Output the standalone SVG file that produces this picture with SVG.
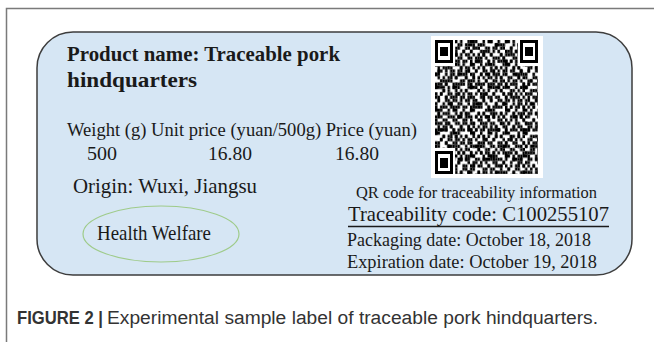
<svg xmlns="http://www.w3.org/2000/svg" width="654" height="342" viewBox="0 0 654 342">
<style>
.lbl{font-family:"Liberation Serif","Times New Roman",serif;fill:#1a1a1a}
.cap{font-family:"Liberation Sans",Arial,sans-serif;fill:#333;font-size:18px}
</style>
<defs>
<pattern id="pa" patternUnits="userSpaceOnUse" width="7" height="7">
<path d="M0 0h2v1h-2zM3 1h1v1h-1zM5 1h1v1h-1zM2 2h1v1h-1zM6 2h1v1h-1zM0 3h1v1h-1zM4 3h1v1h-1zM1 4h1v1h-1zM5 4h1v1h-1zM3 5h1v1h-1zM6 5h1v1h-1zM0 6h1v1h-1zM2 6h1v1h-1zM4 6h1v1h-1z" fill="#000"/>
</pattern>
<pattern id="pb" patternUnits="userSpaceOnUse" width="9" height="9">
<path d="M1 0h1v1h-1zM4 0h1v1h-1zM7 0h1v1h-1zM0 1h1v1h-1zM6 1h1v1h-1zM3 2h1v1h-1zM6 2h1v1h-1zM8 2h1v1h-1zM2 3h1v1h-1zM5 3h1v1h-1zM1 4h1v1h-1zM4 4h1v1h-1zM8 4h1v1h-1zM0 5h1v1h-1zM5 5h1v1h-1zM7 5h1v1h-1zM3 6h1v1h-1zM8 6h1v1h-1zM0 7h1v1h-1zM2 7h1v1h-1zM5 7h1v1h-1zM1 8h1v1h-1zM4 8h1v1h-1zM6 8h1v1h-1z" fill="#000"/>
</pattern>
<pattern id="pc" patternUnits="userSpaceOnUse" width="11" height="13">
<path d="M2 1h2v1h-2zM8 3h1v2h-1zM5 6h2v1h-2zM1 9h1v2h-1zM9 10h2v1h-2zM4 12h1v1h-1z" fill="#000"/>
</pattern>
<g id="finder"><path d="M0 0h7v7h-7zM1 1v5h5v-5z" fill="#000" fill-rule="evenodd"/><rect x="2" y="2" width="3" height="3" fill="#000"/></g>
</defs>

<g id="frame" fill="none" stroke="#7a7a7a" stroke-width="1.5">
<path d="M6.5 342V8.5H654"/>
</g>

<g id="label">
<rect x="37" y="32" width="595" height="243" rx="36" ry="36" fill="#d6e6f4" stroke="#3d3d3d" stroke-width="1.5"/>
</g>

<g id="title">
<text class="lbl" x="67" y="61" font-size="22" font-weight="bold" textLength="273" lengthAdjust="spacingAndGlyphs">Product name: Traceable pork</text>
<text class="lbl" x="67" y="87" font-size="22" font-weight="bold" textLength="130" lengthAdjust="spacingAndGlyphs">hindquarters</text>
</g>

<g id="prices">
<text class="lbl" x="67" y="136" font-size="19" textLength="350" lengthAdjust="spacingAndGlyphs">Weight (g)  Unit price (yuan/500g) Price (yuan)</text>
<text class="lbl" x="87" y="160" font-size="19" textLength="30" lengthAdjust="spacingAndGlyphs">500</text>
<text class="lbl" x="208" y="160" font-size="19" textLength="44" lengthAdjust="spacingAndGlyphs">16.80</text>
<text class="lbl" x="335" y="160" font-size="19" textLength="44" lengthAdjust="spacingAndGlyphs">16.80</text>
</g>

<g id="origin">
<text class="lbl" x="73" y="193" font-size="21" textLength="184" lengthAdjust="spacingAndGlyphs">Origin: Wuxi, Jiangsu</text>
</g>

<g id="health">
<ellipse cx="161" cy="234" rx="78" ry="28" fill="none" stroke="#9fcb8a" stroke-width="1.2"/>
<text class="lbl" x="97" y="240" font-size="21" textLength="114" lengthAdjust="spacingAndGlyphs">Health Welfare</text>
</g>

<g id="qr">
<rect x="431" y="36" width="112" height="142" fill="#fff"/>
<g transform="translate(435,40) scale(2.5,3.27)" shape-rendering="crispEdges">
<rect x="0" y="0" width="41" height="41" fill="url(#pa)"/>
<rect x="0" y="0" width="41" height="41" fill="url(#pb)"/>
<rect x="0" y="0" width="41" height="41" fill="url(#pc)"/>
<rect x="0" y="0" width="8" height="8" fill="#fff"/>
<rect x="33" y="0" width="8" height="8" fill="#fff"/>
<rect x="0" y="33" width="8" height="8" fill="#fff"/>
<use href="#finder"/>
<use href="#finder" x="34"/>
<use href="#finder" y="34"/>
</g>
</g>

<g id="trace">
<text class="lbl" x="356" y="197.5" font-size="16" textLength="241" lengthAdjust="spacingAndGlyphs">QR code for traceability information</text>
<text class="lbl" x="348" y="221" font-size="22" textLength="261" lengthAdjust="spacingAndGlyphs">Traceability code: C100255107</text>
<line x1="348" y1="226.5" x2="609" y2="226.5" stroke="#1a1a1a" stroke-width="1.3"/>
<text class="lbl" x="347" y="246" font-size="19" textLength="244" lengthAdjust="spacingAndGlyphs">Packaging date: October 18, 2018</text>
<text class="lbl" x="347" y="268" font-size="19" textLength="250" lengthAdjust="spacingAndGlyphs">Expiration date: October 19, 2018</text>
</g>

<g id="caption">
<text class="cap" x="17" y="324" font-weight="bold" textLength="86" lengthAdjust="spacingAndGlyphs">FIGURE 2 |</text>
<text class="cap" x="107" y="324" textLength="491" lengthAdjust="spacingAndGlyphs">Experimental sample label of traceable pork hindquarters.</text>
</g>
</svg>
